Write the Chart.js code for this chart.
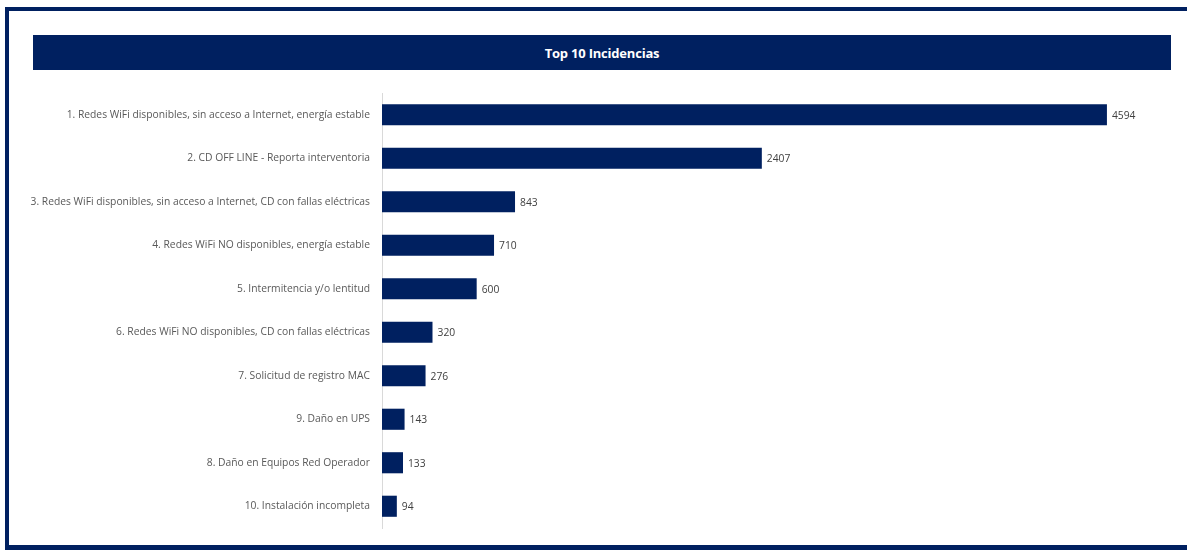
<!DOCTYPE html>
<html>
<head>
<meta charset="utf-8">
<script src="https://cdn.jsdelivr.net/npm/chart.js@4/dist/chart.umd.min.js"></script>
<style>
  html, body { margin: 0; padding: 0; background: #fff; width: 1187px; height: 550px; overflow: hidden; }
  #frame {
    position: absolute; left: 5px; top: 7px; width: 1200px; height: 534px;
    border-top: 4px solid #002060; border-left: 4px solid #002060; border-bottom: 5px solid #002060;
  }
  #title {
    position: absolute; left: 33px; top: 35px; width: 1138px; height: 35px;
    background: #002060; color: #fff; text-align: center; line-height: 36px;
    font-family: 'Open Sans', sans-serif; font-weight: bold; font-size: 13px; letter-spacing: -0.2px;
  }
  #wrap { position: absolute; left: 0; top: 0; width: 1187px; height: 550px; }
</style>
</head>
<body>
<div id="frame"></div>
<div id="title">Top 10 Incidencias</div>
<div id="wrap"><canvas id="chart" width="1187" height="550"></canvas></div>
<script>
// incidencias, en el orden en que aparecen
const labels = [
  "1. Redes WiFi disponibles, sin acceso a Internet, energía estable",
  "2. CD OFF LINE - Reporta interventoria",
  "3. Redes WiFi disponibles, sin acceso a Internet, CD con fallas eléctricas",
  "4. Redes WiFi NO disponibles, energía estable",
  "5. Intermitencia y/o lentitud",
  "6. Redes WiFi NO disponibles, CD con fallas eléctricas",
  "7. Solicitud de registro MAC",
  "9. Daño en UPS",
  "8. Daño en Equipos Red Operador",
  "10. Instalación incompleta"
];
const counts = [4594, 2407, 843, 710, 600, 320, 276, 143, 133, 94];

const navy = "#002060";
const labelFont = "'Open Sans', sans-serif";

// numeros al final de cada barra
const valueLabels = {
  id: "valueLabels",
  afterDatasetsDraw(chart) {
    const ctx = chart.ctx;
    const meta = chart.getDatasetMeta(0);
    ctx.save();
    ctx.font = "10.3px " + labelFont;
    ctx.fillStyle = "#404040";
    ctx.textAlign = "left";
    ctx.textBaseline = "middle";
    meta.data.forEach((bar, i) => {
      ctx.fillText(String(counts[i]), bar.x + 5, bar.y + 1);
    });
    ctx.restore();
  }
};

new Chart(document.getElementById("chart"), {
  type: "bar",
  data: {
    labels: labels,
    datasets: [{
      data: counts,
      backgroundColor: navy,
      borderWidth: 0,
      categoryPercentage: 1,
      barPercentage: 0.485
    }]
  },
  options: {
    indexAxis: "y",
    responsive: false,
    animation: false,
    layout: { padding: { left: 0, right: 16, top: 93, bottom: 22 } },
    plugins: { legend: { display: false }, tooltip: { enabled: false }, title: { display: false } },
    scales: {
      x: { display: false, min: 0, max: 5000 },
      y: {
        afterFit(scale) { scale.width = 382; },
        grid: { display: true, color: "transparent", drawTicks: false, drawOnChartArea: false },
        border: { display: true, color: "#d9d9d9", width: 1 },
        ticks: { color: "#595959", padding: 12, font: { family: labelFont, size: 10.3 } }
      }
    }
  },
  plugins: [valueLabels]
});
</script>
</body>
</html>
